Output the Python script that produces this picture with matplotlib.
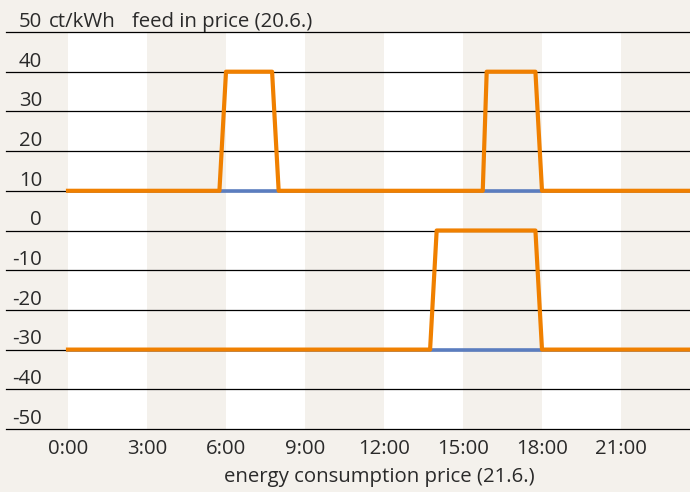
import matplotlib.pyplot as plt

plt.rcParams['font.family'] = ['Open Sans', 'DejaVu Sans']

# data
tick_hours = [0, 3, 6, 9, 12, 15, 18, 21]
tick_labels = ['0:00', '3:00', '6:00', '9:00', '12:00', '15:00', '18:00', '21:00']
y_levels = [50, 40, 30, 20, 10, 0, -10, -20, -30, -40, -50]

feed_hours = [0, 5.75, 6.0, 7.75, 8.0, 15.75, 15.9, 17.75, 18.0, 24]
feed_orange = [10, 10, 40, 40, 10, 10, 40, 40, 10, 10]
feed_blue_hours = [0, 24]
feed_blue = [10, 10]

cons_hours = [0, 13.75, 14.0, 17.75, 18.0, 24]
cons_orange = [-30, -30, 0, 0, -30, -30]
cons_blue_hours = [0, 24]
cons_blue = [-30, -30]

beige = '#f4f1ec'
orange = '#f08000'
blue = '#5b7dbf'
txt = '#2a2a2a'
fs = 14.7

fig = plt.figure(figsize=(6.9, 4.92), dpi=100, facecolor=beige)
ax = fig.add_axes([0, 0, 1, 1])
ax.set_facecolor(beige)
ax.axis('off')

# pixel -> data mapping (0:00 at x=68, 3h = 79px; 50 at y=32, -50 at y=429)
pxh = 79 / 3.0
ax.set_xlim(-68 / pxh, (690 - 68) / pxh)
pxu = (429 - 32) / 100.0
ax.set_ylim(-50 - (492 - 429) / pxu, 50 + 32 / pxu)

def hx(px):
    return (px - 68) / pxh

# white bands
for h in [0, 6, 12, 18]:
    ax.fill_between([h, h + 3], -50, 50, color='white', lw=0, zorder=1)

# horizontal lines + labels
for v in y_levels:
    ax.plot([hx(6), hx(690)], [v, v], color='black', lw=0.9, zorder=2)
    ax.text(hx(42), v + 1.3, str(v), ha='right', va='baseline', fontsize=fs,
            color=txt, zorder=3)

ax.text(hx(49), 50 + 1.3, 'ct/kWh', ha='left', va='baseline', fontsize=fs, color=txt)
ax.text(hx(132), 50 + 1.3, 'feed in price (20.6.)', ha='left', va='baseline',
        fontsize=fs, color=txt)

# series
ax.plot(feed_blue_hours, feed_blue, color=blue, lw=2.6, zorder=4)
ax.plot(cons_blue_hours, cons_blue, color=blue, lw=2.6, zorder=4)
ax.plot(feed_hours, feed_orange, color=orange, lw=3, zorder=5)
ax.plot(cons_hours, cons_orange, color=orange, lw=3, zorder=5)

# x labels
for h, lab in zip(tick_hours, tick_labels):
    ax.text(h, -56.3, lab, ha='center', va='baseline', fontsize=fs, color=txt)
ax.text(hx(379), -63.3, 'energy consumption price (21.6.)', ha='center',
        va='baseline', fontsize=fs, color=txt)

fig.savefig('out.png', dpi=100, facecolor=beige)
